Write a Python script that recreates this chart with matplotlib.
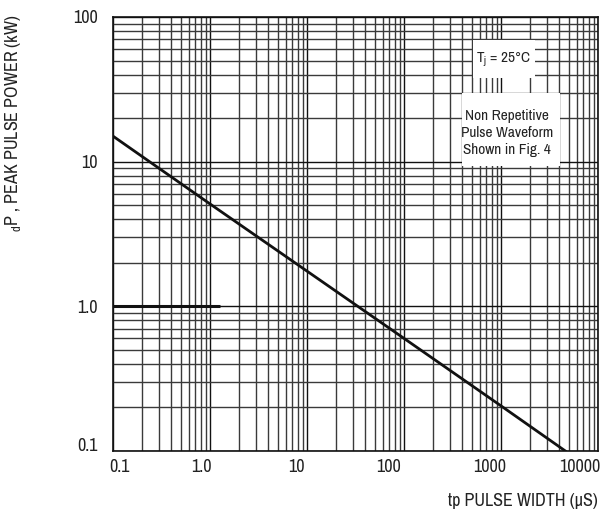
import numpy as np
import matplotlib.pyplot as plt
from matplotlib.transforms import ScaledTranslation
from matplotlib.patches import Rectangle

plt.rcParams['font.family'] = ['Archivo Narrow', 'Liberation Sans', 'DejaVu Sans']

# Curve (log-log straight line)
pulse_width = [0.1, 1.0, 10, 100, 1000, 4600]      # tp, µs
peak_power = [15.0, 5.1, 1.75, 0.6, 0.205, 0.1]    # kW

x_ticks = [0.1, 1.0, 10, 100, 1000, 10000]
x_labels = ['0.1', '1.0', '10', '100', '1000', '10000']
y_ticks = [0.1, 1.0, 10, 100]
y_labels = ['0.1', '1.0', '10', '100']

fig = plt.figure(figsize=(6.09, 5.17), dpi=100)
ax = fig.add_axes([0.1856, 0.1277, 0.7964, 0.8395])
ax.set_xscale('log')
ax.set_yscale('log')
ax.set_xlim(0.1, 10000)
ax.set_ylim(0.1, 100)

ax.grid(True, which='major', color='#111111', linewidth=1.0)
ax.grid(True, which='minor', color='#3a3a3a', linewidth=1.0)
ax.set_axisbelow(True)

# thick segment on the 1.0 line at the left
ax.hlines(1.0, 0.1, 1.27, color='#111111', linewidth=2.2, zorder=2)

ax.plot(pulse_width, peak_power, color='#111111', linewidth=2.0, zorder=4)

ax.set_xticks(x_ticks)
ax.set_xticklabels(x_labels)
ax.set_yticks(y_ticks)
ax.set_yticklabels(y_labels)
ax.tick_params(which='both', length=0, labelsize=13, colors='#222222')
ax.tick_params(axis='x', pad=6)
ax.tick_params(axis='y', pad=11)

# the original labels sit a little left of their grid lines
for lab, dx in zip(ax.get_xticklabels(), [6, -9, -11, -16, -11, -18]):
    lab.set_transform(lab.get_transform() + ScaledTranslation(dx / 100, 0, fig.dpi_scale_trans))
for lab, dy in zip(ax.get_yticklabels(), [6, 0, 0, 0]):
    lab.set_transform(lab.get_transform() + ScaledTranslation(0, dy / 100, fig.dpi_scale_trans))

for s in ax.spines.values():
    s.set_color('#111111')
    s.set_linewidth(1.2)

# white boxes for the notes
ax.add_patch(Rectangle((0.742, 0.859), 0.128, 0.088, transform=ax.transAxes,
                       facecolor='white', edgecolor='none', zorder=3))
ax.add_patch(Rectangle((0.720, 0.657), 0.202, 0.168, transform=ax.transAxes,
                       facecolor='white', edgecolor='none', zorder=3))
ax.text(0.806, 0.901, r'T$_\mathregular{j}$ = 25°C', transform=ax.transAxes,
        ha='center', va='center', fontsize=11, color='#222222', zorder=5)
ax.text(0.812, 0.733, 'Non Repetitive\nPulse Waveform\nShown in Fig. 4',
        transform=ax.transAxes, ha='center', va='center', fontsize=11,
        color='#222222', linespacing=1.25, zorder=5)

fig.text(0.022, 0.762, r'$_\mathregular{d}$P , PEAK PULSE POWER (kW)', rotation=90,
         ha='center', va='center', fontsize=13, color='#222222')
fig.text(0.982, 0.031, 'tp PULSE WIDTH (µS)', ha='right', va='center',
         fontsize=13, color='#222222')

fig.savefig('out.png', dpi=100)
